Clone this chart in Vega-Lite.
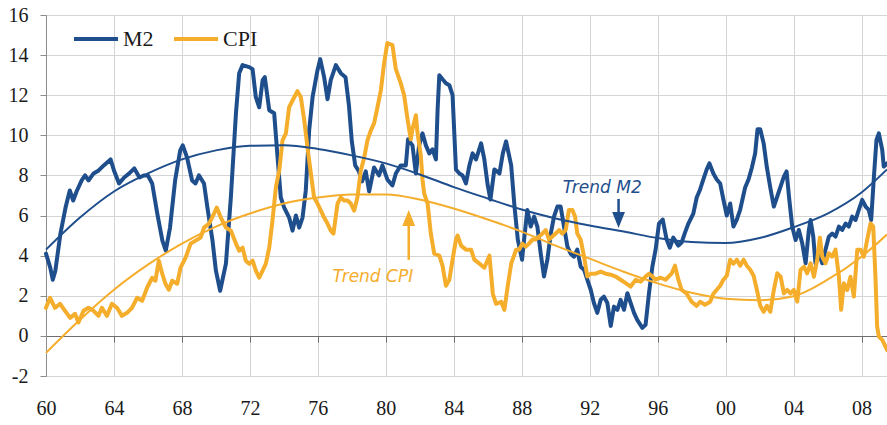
{
  "$schema": "https://vega.github.io/schema/vega-lite/v6.json",
  "width": 841,
  "height": 361,
  "autosize": "none",
  "padding": {"left": 46, "top": 15, "right": 0, "bottom": 49},
  "background": "white",
  "config": {
    "view": {"stroke": null},
    "font": "Liberation Serif",
    "axis": {"labelFont": "Liberation Serif", "labelFontSize": 20, "labelColor": "#1a1a1a", "title": null, "gridColor": "#d4d4d4", "gridWidth": 1}
  },
  "datasets": {
    "series": [
      {"s":"M2","x":1960.0,"y":4.1},{"s":"M2","x":1960.25,"y":3.4},{"s":"M2","x":1960.4,"y":2.8},{"s":"M2","x":1960.55,"y":3.25},{"s":"M2","x":1960.85,"y":5.1},{"s":"M2","x":1961.15,"y":6.4},{"s":"M2","x":1961.4,"y":7.25},{"s":"M2","x":1961.6,"y":6.75},{"s":"M2","x":1961.8,"y":7.2},{"s":"M2","x":1962.1,"y":7.75},{"s":"M2","x":1962.3,"y":8.0},{"s":"M2","x":1962.5,"y":7.75},{"s":"M2","x":1962.8,"y":8.1},{"s":"M2","x":1963.1,"y":8.25},{"s":"M2","x":1963.4,"y":8.5},{"s":"M2","x":1963.6,"y":8.65},{"s":"M2","x":1963.8,"y":8.8},{"s":"M2","x":1964.0,"y":8.25},{"s":"M2","x":1964.3,"y":7.6},{"s":"M2","x":1964.6,"y":7.9},{"s":"M2","x":1964.9,"y":8.1},{"s":"M2","x":1965.2,"y":8.35},{"s":"M2","x":1965.5,"y":7.9},{"s":"M2","x":1965.75,"y":8.0},{"s":"M2","x":1966.0,"y":8.0},{"s":"M2","x":1966.25,"y":7.6},{"s":"M2","x":1966.55,"y":6.1},{"s":"M2","x":1966.85,"y":4.75},{"s":"M2","x":1967.05,"y":4.25},{"s":"M2","x":1967.3,"y":5.4},{"s":"M2","x":1967.6,"y":7.75},{"s":"M2","x":1967.9,"y":9.25},{"s":"M2","x":1968.05,"y":9.5},{"s":"M2","x":1968.3,"y":8.9},{"s":"M2","x":1968.6,"y":7.75},{"s":"M2","x":1968.8,"y":7.6},{"s":"M2","x":1969.0,"y":8.0},{"s":"M2","x":1969.3,"y":7.6},{"s":"M2","x":1969.5,"y":6.4},{"s":"M2","x":1969.8,"y":4.75},{"s":"M2","x":1970.0,"y":3.25},{"s":"M2","x":1970.25,"y":2.25},{"s":"M2","x":1970.59,"y":3.6},{"s":"M2","x":1970.88,"y":6.9},{"s":"M2","x":1971.18,"y":11.1},{"s":"M2","x":1971.37,"y":13.1},{"s":"M2","x":1971.57,"y":13.5},{"s":"M2","x":1971.96,"y":13.4},{"s":"M2","x":1972.16,"y":13.3},{"s":"M2","x":1972.35,"y":11.9},{"s":"M2","x":1972.55,"y":11.4},{"s":"M2","x":1972.75,"y":12.75},{"s":"M2","x":1972.88,"y":12.9},{"s":"M2","x":1973.14,"y":11.25},{"s":"M2","x":1973.43,"y":11.1},{"s":"M2","x":1973.63,"y":8.9},{"s":"M2","x":1973.82,"y":6.9},{"s":"M2","x":1974.02,"y":6.4},{"s":"M2","x":1974.31,"y":5.9},{"s":"M2","x":1974.51,"y":5.25},{"s":"M2","x":1974.71,"y":6.0},{"s":"M2","x":1974.9,"y":5.4},{"s":"M2","x":1975.1,"y":5.9},{"s":"M2","x":1975.29,"y":7.25},{"s":"M2","x":1975.49,"y":10.25},{"s":"M2","x":1975.69,"y":11.9},{"s":"M2","x":1975.98,"y":13.25},{"s":"M2","x":1976.14,"y":13.8},{"s":"M2","x":1976.37,"y":12.9},{"s":"M2","x":1976.57,"y":11.8},{"s":"M2","x":1976.76,"y":12.75},{"s":"M2","x":1977.06,"y":13.5},{"s":"M2","x":1977.35,"y":13.1},{"s":"M2","x":1977.63,"y":12.9},{"s":"M2","x":1977.83,"y":11.5},{"s":"M2","x":1978.0,"y":9.7},{"s":"M2","x":1978.2,"y":8.5},{"s":"M2","x":1978.42,"y":8.2},{"s":"M2","x":1978.6,"y":7.7},{"s":"M2","x":1978.82,"y":8.2},{"s":"M2","x":1979.02,"y":7.2},{"s":"M2","x":1979.31,"y":8.4},{"s":"M2","x":1979.6,"y":8.0},{"s":"M2","x":1979.8,"y":8.5},{"s":"M2","x":1980.09,"y":7.8},{"s":"M2","x":1980.39,"y":7.5},{"s":"M2","x":1980.59,"y":8.1},{"s":"M2","x":1980.88,"y":8.5},{"s":"M2","x":1981.18,"y":8.5},{"s":"M2","x":1981.31,"y":9.8},{"s":"M2","x":1981.57,"y":9.5},{"s":"M2","x":1981.77,"y":8.1},{"s":"M2","x":1981.96,"y":9.5},{"s":"M2","x":1982.16,"y":10.1},{"s":"M2","x":1982.36,"y":9.5},{"s":"M2","x":1982.56,"y":9.1},{"s":"M2","x":1982.75,"y":9.3},{"s":"M2","x":1982.95,"y":8.8},{"s":"M2","x":1983.05,"y":11.3},{"s":"M2","x":1983.15,"y":13.0},{"s":"M2","x":1983.34,"y":12.8},{"s":"M2","x":1983.54,"y":12.6},{"s":"M2","x":1983.74,"y":12.5},{"s":"M2","x":1983.93,"y":12.0},{"s":"M2","x":1984.13,"y":8.3},{"s":"M2","x":1984.33,"y":8.1},{"s":"M2","x":1984.52,"y":8.0},{"s":"M2","x":1984.72,"y":7.6},{"s":"M2","x":1984.92,"y":8.5},{"s":"M2","x":1985.11,"y":9.1},{"s":"M2","x":1985.31,"y":8.8},{"s":"M2","x":1985.61,"y":9.6},{"s":"M2","x":1985.8,"y":8.8},{"s":"M2","x":1986.0,"y":7.5},{"s":"M2","x":1986.16,"y":6.8},{"s":"M2","x":1986.39,"y":8.3},{"s":"M2","x":1986.69,"y":8.1},{"s":"M2","x":1986.89,"y":9.1},{"s":"M2","x":1987.08,"y":9.7},{"s":"M2","x":1987.38,"y":8.5},{"s":"M2","x":1987.57,"y":6.5},{"s":"M2","x":1987.77,"y":4.8},{"s":"M2","x":1988.02,"y":3.8},{"s":"M2","x":1988.14,"y":4.8},{"s":"M2","x":1988.33,"y":6.28},{"s":"M2","x":1988.53,"y":5.45},{"s":"M2","x":1988.73,"y":5.95},{"s":"M2","x":1988.92,"y":5.45},{"s":"M2","x":1989.12,"y":4.1},{"s":"M2","x":1989.31,"y":2.96},{"s":"M2","x":1989.51,"y":3.8},{"s":"M2","x":1989.71,"y":5.1},{"s":"M2","x":1989.9,"y":5.95},{"s":"M2","x":1990.1,"y":6.45},{"s":"M2","x":1990.29,"y":6.45},{"s":"M2","x":1990.49,"y":5.45},{"s":"M2","x":1990.69,"y":4.45},{"s":"M2","x":1990.88,"y":4.1},{"s":"M2","x":1991.08,"y":3.95},{"s":"M2","x":1991.27,"y":4.3},{"s":"M2","x":1991.47,"y":3.45},{"s":"M2","x":1991.67,"y":3.3},{"s":"M2","x":1991.86,"y":2.8},{"s":"M2","x":1992.06,"y":2.3},{"s":"M2","x":1992.25,"y":1.64},{"s":"M2","x":1992.45,"y":1.15},{"s":"M2","x":1992.65,"y":1.8},{"s":"M2","x":1992.84,"y":1.96},{"s":"M2","x":1993.04,"y":1.64},{"s":"M2","x":1993.24,"y":0.5},{"s":"M2","x":1993.43,"y":1.46},{"s":"M2","x":1993.63,"y":1.3},{"s":"M2","x":1993.82,"y":1.8},{"s":"M2","x":1994.02,"y":1.3},{"s":"M2","x":1994.22,"y":2.13},{"s":"M2","x":1994.41,"y":1.64},{"s":"M2","x":1994.61,"y":1.15},{"s":"M2","x":1994.8,"y":0.8},{"s":"M2","x":1995.1,"y":0.4},{"s":"M2","x":1995.29,"y":0.55},{"s":"M2","x":1995.49,"y":2.13},{"s":"M2","x":1995.69,"y":3.45},{"s":"M2","x":1995.88,"y":4.3},{"s":"M2","x":1996.08,"y":5.6},{"s":"M2","x":1996.3,"y":5.8},{"s":"M2","x":1996.53,"y":4.8},{"s":"M2","x":1996.72,"y":4.4},{"s":"M2","x":1996.92,"y":4.9},{"s":"M2","x":1997.22,"y":4.5},{"s":"M2","x":1997.41,"y":4.65},{"s":"M2","x":1997.61,"y":5.15},{"s":"M2","x":1997.81,"y":5.6},{"s":"M2","x":1998.1,"y":6.1},{"s":"M2","x":1998.3,"y":6.9},{"s":"M2","x":1998.5,"y":7.3},{"s":"M2","x":1998.69,"y":7.8},{"s":"M2","x":1998.89,"y":8.3},{"s":"M2","x":1999.05,"y":8.6},{"s":"M2","x":1999.28,"y":8.1},{"s":"M2","x":1999.48,"y":7.8},{"s":"M2","x":1999.68,"y":7.6},{"s":"M2","x":1999.87,"y":6.8},{"s":"M2","x":2000.07,"y":6.0},{"s":"M2","x":2000.27,"y":6.6},{"s":"M2","x":2000.46,"y":5.45},{"s":"M2","x":2000.66,"y":5.8},{"s":"M2","x":2000.86,"y":6.3},{"s":"M2","x":2001.15,"y":7.4},{"s":"M2","x":2001.35,"y":7.8},{"s":"M2","x":2001.55,"y":8.4},{"s":"M2","x":2001.74,"y":9.1},{"s":"M2","x":2001.88,"y":10.3},{"s":"M2","x":2002.04,"y":10.3},{"s":"M2","x":2002.24,"y":9.6},{"s":"M2","x":2002.43,"y":8.4},{"s":"M2","x":2002.65,"y":7.3},{"s":"M2","x":2002.84,"y":6.45},{"s":"M2","x":2003.04,"y":6.95},{"s":"M2","x":2003.24,"y":7.45},{"s":"M2","x":2003.43,"y":7.94},{"s":"M2","x":2003.59,"y":8.2},{"s":"M2","x":2003.73,"y":6.95},{"s":"M2","x":2003.92,"y":5.45},{"s":"M2","x":2004.12,"y":4.78},{"s":"M2","x":2004.31,"y":5.28},{"s":"M2","x":2004.51,"y":4.62},{"s":"M2","x":2004.71,"y":3.62},{"s":"M2","x":2004.9,"y":5.28},{"s":"M2","x":2005.0,"y":5.78},{"s":"M2","x":2005.16,"y":4.95},{"s":"M2","x":2005.29,"y":3.62},{"s":"M2","x":2005.49,"y":4.12},{"s":"M2","x":2005.69,"y":3.62},{"s":"M2","x":2005.88,"y":4.3},{"s":"M2","x":2006.08,"y":4.95},{"s":"M2","x":2006.27,"y":5.1},{"s":"M2","x":2006.47,"y":4.95},{"s":"M2","x":2006.67,"y":5.45},{"s":"M2","x":2006.86,"y":5.28},{"s":"M2","x":2007.06,"y":5.6},{"s":"M2","x":2007.25,"y":5.45},{"s":"M2","x":2007.45,"y":5.95},{"s":"M2","x":2007.65,"y":5.78},{"s":"M2","x":2007.84,"y":6.28},{"s":"M2","x":2008.04,"y":6.78},{"s":"M2","x":2008.24,"y":6.45},{"s":"M2","x":2008.43,"y":6.28},{"s":"M2","x":2008.57,"y":5.78},{"s":"M2","x":2008.73,"y":7.94},{"s":"M2","x":2008.88,"y":9.77},{"s":"M2","x":2009.02,"y":10.1},{"s":"M2","x":2009.22,"y":9.27},{"s":"M2","x":2009.31,"y":8.44},{"s":"M2","x":2009.5,"y":8.6},
      {"s":"CPI","x":1960.0,"y":1.4},{"s":"CPI","x":1960.24,"y":1.9},{"s":"CPI","x":1960.53,"y":1.4},{"s":"CPI","x":1960.83,"y":1.6},{"s":"CPI","x":1961.12,"y":1.25},{"s":"CPI","x":1961.42,"y":0.9},{"s":"CPI","x":1961.71,"y":1.1},{"s":"CPI","x":1961.91,"y":0.67},{"s":"CPI","x":1962.21,"y":1.25},{"s":"CPI","x":1962.5,"y":1.4},{"s":"CPI","x":1962.8,"y":1.25},{"s":"CPI","x":1963.09,"y":1.0},{"s":"CPI","x":1963.29,"y":1.4},{"s":"CPI","x":1963.59,"y":1.0},{"s":"CPI","x":1963.88,"y":1.6},{"s":"CPI","x":1964.18,"y":1.4},{"s":"CPI","x":1964.47,"y":1.0},{"s":"CPI","x":1964.77,"y":1.15},{"s":"CPI","x":1965.06,"y":1.4},{"s":"CPI","x":1965.36,"y":1.9},{"s":"CPI","x":1965.66,"y":1.75},{"s":"CPI","x":1965.95,"y":2.4},{"s":"CPI","x":1966.25,"y":2.9},{"s":"CPI","x":1966.44,"y":2.75},{"s":"CPI","x":1966.64,"y":3.75},{"s":"CPI","x":1966.84,"y":3.1},{"s":"CPI","x":1967.03,"y":2.6},{"s":"CPI","x":1967.23,"y":2.3},{"s":"CPI","x":1967.43,"y":2.75},{"s":"CPI","x":1967.72,"y":2.6},{"s":"CPI","x":1967.92,"y":3.4},{"s":"CPI","x":1968.22,"y":3.9},{"s":"CPI","x":1968.51,"y":4.6},{"s":"CPI","x":1968.81,"y":4.75},{"s":"CPI","x":1969.1,"y":4.9},{"s":"CPI","x":1969.3,"y":5.4},{"s":"CPI","x":1969.6,"y":5.6},{"s":"CPI","x":1969.89,"y":6.1},{"s":"CPI","x":1970.05,"y":6.4},{"s":"CPI","x":1970.29,"y":5.9},{"s":"CPI","x":1970.59,"y":5.4},{"s":"CPI","x":1970.88,"y":5.25},{"s":"CPI","x":1971.18,"y":4.6},{"s":"CPI","x":1971.37,"y":4.25},{"s":"CPI","x":1971.57,"y":4.4},{"s":"CPI","x":1971.76,"y":3.75},{"s":"CPI","x":1971.96,"y":3.6},{"s":"CPI","x":1972.16,"y":3.75},{"s":"CPI","x":1972.35,"y":3.25},{"s":"CPI","x":1972.55,"y":2.9},{"s":"CPI","x":1972.75,"y":3.25},{"s":"CPI","x":1972.94,"y":3.6},{"s":"CPI","x":1973.14,"y":4.4},{"s":"CPI","x":1973.33,"y":5.75},{"s":"CPI","x":1973.53,"y":7.4},{"s":"CPI","x":1973.73,"y":8.25},{"s":"CPI","x":1973.92,"y":9.75},{"s":"CPI","x":1974.12,"y":10.1},{"s":"CPI","x":1974.31,"y":11.4},{"s":"CPI","x":1974.61,"y":11.9},{"s":"CPI","x":1974.8,"y":12.2},{"s":"CPI","x":1975.0,"y":11.9},{"s":"CPI","x":1975.2,"y":10.75},{"s":"CPI","x":1975.39,"y":9.4},{"s":"CPI","x":1975.59,"y":8.1},{"s":"CPI","x":1975.78,"y":6.9},{"s":"CPI","x":1975.98,"y":6.6},{"s":"CPI","x":1976.18,"y":6.25},{"s":"CPI","x":1976.37,"y":5.9},{"s":"CPI","x":1976.57,"y":5.6},{"s":"CPI","x":1976.76,"y":5.25},{"s":"CPI","x":1976.92,"y":5.1},{"s":"CPI","x":1977.16,"y":6.6},{"s":"CPI","x":1977.35,"y":6.9},{"s":"CPI","x":1977.55,"y":6.75},{"s":"CPI","x":1977.75,"y":6.75},{"s":"CPI","x":1977.94,"y":6.6},{"s":"CPI","x":1978.14,"y":6.25},{"s":"CPI","x":1978.33,"y":6.9},{"s":"CPI","x":1978.53,"y":8.25},{"s":"CPI","x":1978.73,"y":8.9},{"s":"CPI","x":1978.92,"y":9.75},{"s":"CPI","x":1979.12,"y":10.25},{"s":"CPI","x":1979.31,"y":10.6},{"s":"CPI","x":1979.51,"y":11.4},{"s":"CPI","x":1979.71,"y":12.25},{"s":"CPI","x":1979.9,"y":13.6},{"s":"CPI","x":1980.09,"y":14.6},{"s":"CPI","x":1980.39,"y":14.5},{"s":"CPI","x":1980.59,"y":13.3},{"s":"CPI","x":1980.88,"y":12.6},{"s":"CPI","x":1981.08,"y":12.0},{"s":"CPI","x":1981.28,"y":10.8},{"s":"CPI","x":1981.47,"y":9.8},{"s":"CPI","x":1981.57,"y":10.3},{"s":"CPI","x":1981.77,"y":11.0},{"s":"CPI","x":1981.87,"y":10.1},{"s":"CPI","x":1982.06,"y":9.0},{"s":"CPI","x":1982.16,"y":7.8},{"s":"CPI","x":1982.26,"y":7.1},{"s":"CPI","x":1982.46,"y":6.6},{"s":"CPI","x":1982.65,"y":5.1},{"s":"CPI","x":1982.85,"y":4.1},{"s":"CPI","x":1983.15,"y":4.0},{"s":"CPI","x":1983.34,"y":3.5},{"s":"CPI","x":1983.54,"y":2.5},{"s":"CPI","x":1983.74,"y":2.8},{"s":"CPI","x":1983.93,"y":3.8},{"s":"CPI","x":1984.13,"y":4.8},{"s":"CPI","x":1984.23,"y":5.0},{"s":"CPI","x":1984.43,"y":4.5},{"s":"CPI","x":1984.72,"y":4.3},{"s":"CPI","x":1985.02,"y":4.3},{"s":"CPI","x":1985.21,"y":3.8},{"s":"CPI","x":1985.51,"y":3.6},{"s":"CPI","x":1985.8,"y":3.4},{"s":"CPI","x":1986.1,"y":4.0},{"s":"CPI","x":1986.3,"y":2.1},{"s":"CPI","x":1986.49,"y":1.6},{"s":"CPI","x":1986.79,"y":1.7},{"s":"CPI","x":1986.98,"y":1.3},{"s":"CPI","x":1987.18,"y":2.5},{"s":"CPI","x":1987.38,"y":3.6},{"s":"CPI","x":1987.67,"y":4.3},{"s":"CPI","x":1987.84,"y":4.3},{"s":"CPI","x":1988.04,"y":4.6},{"s":"CPI","x":1988.24,"y":4.45},{"s":"CPI","x":1988.43,"y":4.6},{"s":"CPI","x":1988.63,"y":4.8},{"s":"CPI","x":1988.82,"y":4.8},{"s":"CPI","x":1989.02,"y":4.95},{"s":"CPI","x":1989.22,"y":5.1},{"s":"CPI","x":1989.41,"y":5.28},{"s":"CPI","x":1989.61,"y":4.8},{"s":"CPI","x":1989.8,"y":4.95},{"s":"CPI","x":1990.0,"y":5.1},{"s":"CPI","x":1990.2,"y":5.28},{"s":"CPI","x":1990.39,"y":5.1},{"s":"CPI","x":1990.59,"y":5.28},{"s":"CPI","x":1990.78,"y":6.28},{"s":"CPI","x":1990.98,"y":6.28},{"s":"CPI","x":1991.14,"y":5.95},{"s":"CPI","x":1991.27,"y":5.1},{"s":"CPI","x":1991.47,"y":4.8},{"s":"CPI","x":1991.67,"y":3.95},{"s":"CPI","x":1991.86,"y":2.96},{"s":"CPI","x":1992.06,"y":3.1},{"s":"CPI","x":1992.35,"y":3.1},{"s":"CPI","x":1992.65,"y":3.2},{"s":"CPI","x":1992.94,"y":3.1},{"s":"CPI","x":1993.24,"y":3.05},{"s":"CPI","x":1993.53,"y":2.96},{"s":"CPI","x":1993.82,"y":2.8},{"s":"CPI","x":1994.12,"y":2.63},{"s":"CPI","x":1994.41,"y":2.46},{"s":"CPI","x":1994.71,"y":2.8},{"s":"CPI","x":1995.0,"y":2.7},{"s":"CPI","x":1995.29,"y":2.96},{"s":"CPI","x":1995.49,"y":3.1},{"s":"CPI","x":1995.69,"y":2.96},{"s":"CPI","x":1995.88,"y":2.8},{"s":"CPI","x":1996.18,"y":2.9},{"s":"CPI","x":1996.47,"y":2.8},{"s":"CPI","x":1996.82,"y":3.1},{"s":"CPI","x":1997.02,"y":3.5},{"s":"CPI","x":1997.22,"y":2.8},{"s":"CPI","x":1997.41,"y":2.3},{"s":"CPI","x":1997.71,"y":2.1},{"s":"CPI","x":1998.0,"y":1.7},{"s":"CPI","x":1998.3,"y":1.5},{"s":"CPI","x":1998.5,"y":1.7},{"s":"CPI","x":1998.79,"y":1.55},{"s":"CPI","x":1999.09,"y":1.7},{"s":"CPI","x":1999.28,"y":2.1},{"s":"CPI","x":1999.48,"y":2.3},{"s":"CPI","x":1999.68,"y":2.5},{"s":"CPI","x":1999.87,"y":2.8},{"s":"CPI","x":2000.07,"y":3.0},{"s":"CPI","x":2000.27,"y":3.8},{"s":"CPI","x":2000.46,"y":3.6},{"s":"CPI","x":2000.66,"y":3.8},{"s":"CPI","x":2000.86,"y":3.5},{"s":"CPI","x":2001.06,"y":3.8},{"s":"CPI","x":2001.25,"y":3.5},{"s":"CPI","x":2001.45,"y":3.3},{"s":"CPI","x":2001.65,"y":3.0},{"s":"CPI","x":2001.84,"y":2.3},{"s":"CPI","x":2002.04,"y":1.5},{"s":"CPI","x":2002.24,"y":1.2},{"s":"CPI","x":2002.43,"y":1.5},{"s":"CPI","x":2002.63,"y":1.2},{"s":"CPI","x":2002.84,"y":2.29},{"s":"CPI","x":2003.04,"y":3.12},{"s":"CPI","x":2003.24,"y":2.95},{"s":"CPI","x":2003.43,"y":2.12},{"s":"CPI","x":2003.63,"y":2.29},{"s":"CPI","x":2003.82,"y":2.12},{"s":"CPI","x":2004.02,"y":2.29},{"s":"CPI","x":2004.22,"y":1.71},{"s":"CPI","x":2004.41,"y":3.29},{"s":"CPI","x":2004.61,"y":3.45},{"s":"CPI","x":2004.8,"y":3.12},{"s":"CPI","x":2005.0,"y":3.62},{"s":"CPI","x":2005.2,"y":2.95},{"s":"CPI","x":2005.39,"y":3.79},{"s":"CPI","x":2005.55,"y":4.9},{"s":"CPI","x":2005.69,"y":3.95},{"s":"CPI","x":2005.88,"y":3.62},{"s":"CPI","x":2006.08,"y":4.12},{"s":"CPI","x":2006.27,"y":3.95},{"s":"CPI","x":2006.47,"y":4.3},{"s":"CPI","x":2006.67,"y":2.95},{"s":"CPI","x":2006.8,"y":1.3},{"s":"CPI","x":2006.96,"y":2.62},{"s":"CPI","x":2007.16,"y":2.29},{"s":"CPI","x":2007.35,"y":2.95},{"s":"CPI","x":2007.55,"y":1.96},{"s":"CPI","x":2007.75,"y":4.3},{"s":"CPI","x":2007.94,"y":4.3},{"s":"CPI","x":2008.14,"y":3.95},{"s":"CPI","x":2008.33,"y":4.78},{"s":"CPI","x":2008.53,"y":5.61},{"s":"CPI","x":2008.69,"y":5.45},{"s":"CPI","x":2008.82,"y":2.95},{"s":"CPI","x":2008.92,"y":0.46},{"s":"CPI","x":2009.02,"y":-0.03},{"s":"CPI","x":2009.22,"y":-0.2},{"s":"CPI","x":2009.41,"y":-0.53},{"s":"CPI","x":2009.5,"y":-0.7}
    ],
    "trend": [
      {"s":"M2","x":1960,"y":4.3},{"s":"M2","x":1962,"y":5.9},{"s":"M2","x":1964,"y":7.2},{"s":"M2","x":1966,"y":8.1},{"s":"M2","x":1968,"y":8.8},{"s":"M2","x":1970,"y":9.25},{"s":"M2","x":1972,"y":9.48},{"s":"M2","x":1974,"y":9.5},{"s":"M2","x":1976,"y":9.32},{"s":"M2","x":1978,"y":9.0},{"s":"M2","x":1980,"y":8.6},{"s":"M2","x":1982,"y":8.05},{"s":"M2","x":1984,"y":7.42},{"s":"M2","x":1986,"y":6.85},{"s":"M2","x":1988,"y":6.3},{"s":"M2","x":1990,"y":5.85},{"s":"M2","x":1992,"y":5.5},{"s":"M2","x":1994,"y":5.2},{"s":"M2","x":1996,"y":4.88},{"s":"M2","x":1998,"y":4.68},{"s":"M2","x":2000,"y":4.63},{"s":"M2","x":2002,"y":4.88},{"s":"M2","x":2004,"y":5.42},{"s":"M2","x":2006,"y":6.1},{"s":"M2","x":2008,"y":7.15},{"s":"M2","x":2009.5,"y":8.3},
      {"s":"CPI","x":1960,"y":-0.85},{"s":"CPI","x":1962,"y":0.8},{"s":"CPI","x":1964,"y":2.3},{"s":"CPI","x":1966,"y":3.55},{"s":"CPI","x":1968,"y":4.6},{"s":"CPI","x":1970,"y":5.45},{"s":"CPI","x":1972,"y":6.1},{"s":"CPI","x":1974,"y":6.6},{"s":"CPI","x":1976,"y":6.9},{"s":"CPI","x":1978,"y":7.05},{"s":"CPI","x":1980,"y":7.05},{"s":"CPI","x":1982,"y":6.8},{"s":"CPI","x":1984,"y":6.35},{"s":"CPI","x":1986,"y":5.8},{"s":"CPI","x":1988,"y":5.2},{"s":"CPI","x":1990,"y":4.5},{"s":"CPI","x":1992,"y":3.85},{"s":"CPI","x":1994,"y":3.2},{"s":"CPI","x":1996,"y":2.62},{"s":"CPI","x":1998,"y":2.15},{"s":"CPI","x":2000,"y":1.85},{"s":"CPI","x":2002,"y":1.78},{"s":"CPI","x":2004,"y":1.98},{"s":"CPI","x":2006,"y":2.8},{"s":"CPI","x":2008,"y":3.95},{"s":"CPI","x":2009.5,"y":5.05}
    ],
    "notes": [
      {"s":"M2","x":1992.74,"y":7.13,"t":"Trend M2"},
      {"s":"CPI","x":1979.24,"y":2.69,"t":"Trend CPI"}
    ],
    "arrows": [
      {"s":"M2","x":1993.7,"y":6.83,"y2":5.78},
      {"s":"CPI","x":1981.35,"y":3.79,"y2":5.88}
    ]
  },
  "encoding": {
    "x": {
      "field": "x", "type": "quantitative",
      "scale": {"domain": [1960, 2009.5], "nice": false, "zero": false},
      "axis": {
        "values": [1960,1964,1968,1972,1976,1980,1984,1988,1992,1996,2000,2004,2008],
        "labelExpr": "format(datum.value % 100, '02d')",
        "labelFont": "Liberation Serif", "labelFontSize": 20, "labelColor": "#1a1a1a",
        "offset": -40, "grid": true, "gridColor": "#d4d4d4",
        "domainColor": "#6e6e6e", "tickColor": "#6e6e6e", "tickSize": 6,
        "labelPadding": 56, "labelFlush": false
      }
    },
    "y": {
      "field": "y", "type": "quantitative",
      "scale": {"domain": [-2, 16], "nice": false, "zero": false},
      "axis": {
        "values": [-2,0,2,4,6,8,10,12,14,16],
        "labelExpr": "toString(datum.value)",
        "labelFont": "Liberation Serif", "labelFontSize": 20, "labelColor": "#1a1a1a",
        "domainColor": "#8c8c8c", "tickColor": "#8c8c8c", "tickSize": 6,
        "labelPadding": 12, "grid": true, "gridColor": "#d4d4d4"
      }
    }
  },
  "layer": [
    {
      "data": {"name": "series"},
      "transform": [{"filter": "datum.s === 'M2'"}],
      "mark": {"type": "line", "strokeWidth": 4, "strokeJoin": "round", "strokeCap": "round"},
      "encoding": {
        "color": {
          "field": "s", "type": "nominal",
          "scale": {"domain": ["M2", "CPI"], "range": ["#1f4e8c", "#f5ad2c"]},
          "legend": {
            "orient": "none", "legendX": 26, "legendY": 0, "direction": "horizontal",
            "title": null, "symbolType": "stroke", "symbolSize": 1936, "symbolStrokeWidth": 4,
            "labelFont": "Liberation Serif", "labelFontSize": 22, "labelColor": "#1a1a1a",
            "labelOffset": 3, "columnPadding": 12, "padding": 0
          }
        }
      }
    },
    {
      "data": {"name": "series"},
      "transform": [{"filter": "datum.s === 'CPI'"}],
      "mark": {"type": "line", "strokeWidth": 4, "strokeJoin": "round", "strokeCap": "round"},
      "encoding": {
        "color": {"field": "s", "type": "nominal"}
      }
    },
    {
      "data": {"name": "trend"},
      "mark": {"type": "line", "strokeWidth": 2, "interpolate": "monotone"},
      "encoding": {
        "color": {"field": "s", "type": "nominal"}
      }
    },
    {
      "data": {"name": "arrows"},
      "mark": {"type": "rule", "strokeWidth": 2.5},
      "encoding": {
        "y2": {"field": "y2"},
        "color": {"condition": {"test": "datum.s === 'M2'", "value": "#1f4e8c"}, "value": "#f5ad2c"}
      }
    },
    {
      "data": {"name": "arrows"},
      "mark": {"type": "point", "filled": true, "opacity": 1, "strokeWidth": 0, "shape": "M-0.8,-1L0.8,-1L0,1Z", "size": 256},
      "encoding": {
        "y": {"field": "y2", "type": "quantitative"},
        "angle": {"condition": {"test": "datum.s === 'CPI'", "value": 180}, "value": 0},
        "color": {"condition": {"test": "datum.s === 'M2'", "value": "#1f4e8c"}, "value": "#f5ad2c"}
      }
    },
    {
      "data": {"name": "notes"},
      "mark": {"type": "text", "font": "DejaVu Sans", "fontStyle": "italic", "fontSize": 17, "align": "center", "baseline": "alphabetic"},
      "encoding": {
        "text": {"field": "t"},
        "color": {"condition": {"test": "datum.s === 'M2'", "value": "#1f4e8c"}, "value": "#f5ad2c"}
      }
    }
  ]
}
